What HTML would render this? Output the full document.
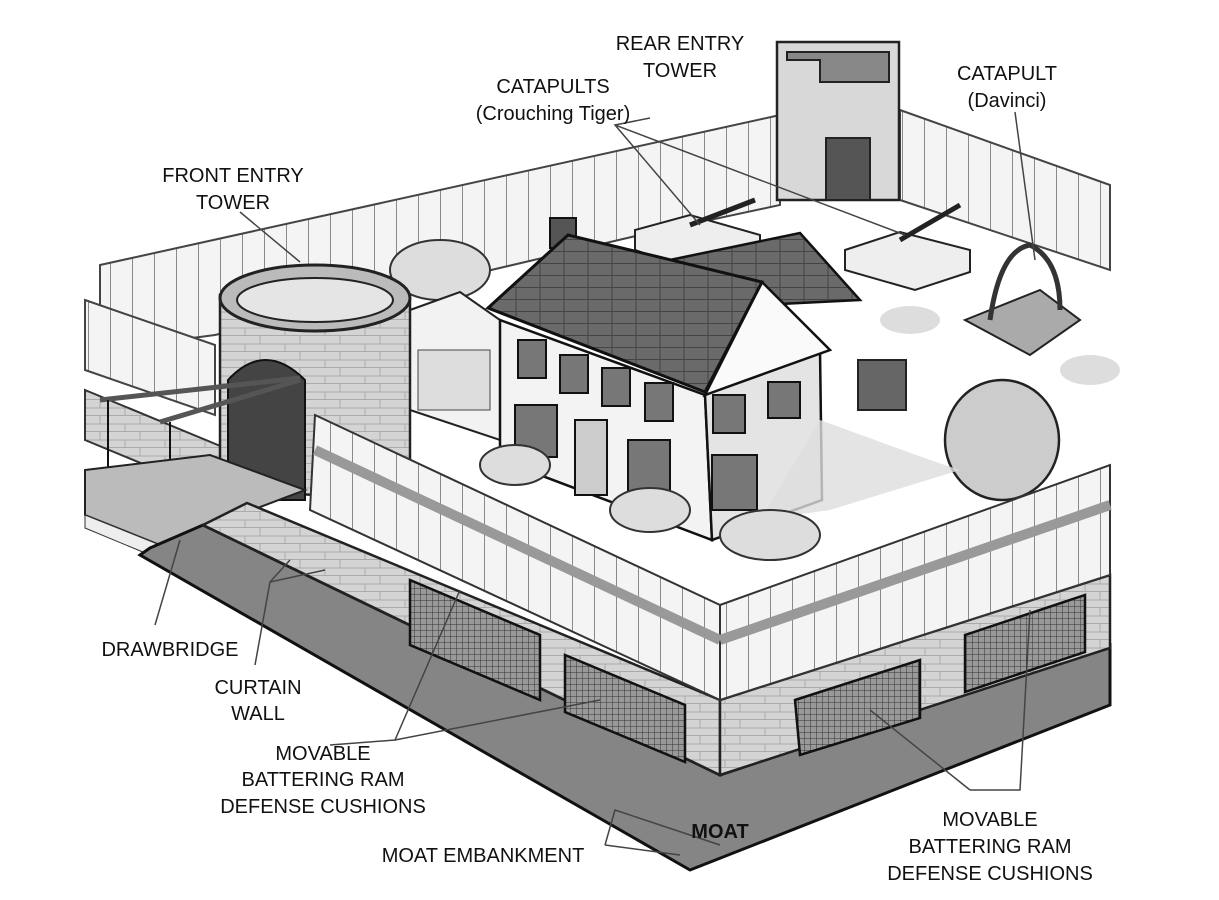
<!DOCTYPE html>
<html><head><meta charset="utf-8"><style>
html,body{margin:0;padding:0;background:#fff}
svg{display:block}
text{font-family:"Liberation Sans",sans-serif;font-size:20px;fill:#111;text-anchor:middle}
</style></head><body>
<svg width="1219" height="900" viewBox="0 0 1219 900" xmlns="http://www.w3.org/2000/svg">
<defs>
<pattern id="pk" width="22" height="40" patternUnits="userSpaceOnUse"><rect width="22" height="40" fill="#f4f4f4"/><line x1="0" y1="0" x2="0" y2="40" stroke="#666" stroke-width="1.5"/></pattern>
<pattern id="br" width="40" height="16" patternUnits="userSpaceOnUse"><rect width="40" height="16" fill="#d4d4d4"/><path d="M0 15.5H40M20 0V8M0 8H40M5 8V16" stroke="#aaa" stroke-width="1" fill="none"/></pattern>
<pattern id="mesh" width="6" height="6" patternUnits="userSpaceOnUse"><rect width="6" height="6" fill="#999"/><path d="M0 0V6M0 0H6" stroke="#333" stroke-width="1"/></pattern>
<pattern id="sh" width="24" height="12" patternUnits="userSpaceOnUse"><rect width="24" height="12" fill="#6a6a6a"/><path d="M0 11.5H24M12 0V12" stroke="#444" stroke-width="1"/></pattern>
</defs>
<!-- back fence -->
<polygon points="100,265 780,115 780,205 640,235 215,335 100,350" fill="url(#pk)" stroke="#444" stroke-width="2"/>
<polygon points="900,110 1110,185 1110,270 900,200" fill="url(#pk)" stroke="#444" stroke-width="2"/>
<!-- rear tower -->
<rect x="777" y="42" width="122" height="158" fill="#d8d8d8" stroke="#222" stroke-width="2.5"/>
<path d="M787 52 H889 V82 H820 V60 H787 Z" fill="#888" stroke="#222" stroke-width="2"/>
<rect x="826" y="138" width="44" height="62" fill="#555" stroke="#222" stroke-width="2"/>
<!-- catapults -->
<polygon points="635,230 690,215 760,235 760,255 705,275 635,250" fill="#eee" stroke="#222" stroke-width="2"/>
<line x1="690" y1="225" x2="755" y2="200" stroke="#222" stroke-width="5"/>
<polygon points="845,250 900,232 970,250 970,272 915,290 845,270" fill="#eee" stroke="#222" stroke-width="2"/>
<line x1="900" y1="240" x2="960" y2="205" stroke="#222" stroke-width="5"/>
<!-- davinci -->
<polygon points="965,320 1040,290 1080,320 1030,355" fill="#aaa" stroke="#222" stroke-width="2"/>
<path d="M990 320 Q1000 250 1030 245 Q1060 260 1060 310" fill="none" stroke="#333" stroke-width="5"/>
<!-- shrubs / tree -->
<ellipse cx="440" cy="270" rx="50" ry="30" fill="#ddd" stroke="#333" stroke-width="2"/>
<ellipse cx="1002" cy="440" rx="57" ry="60" fill="#ccc" stroke="#222" stroke-width="2.5"/>
<ellipse cx="1090" cy="370" rx="30" ry="15" fill="#ddd"/>
<ellipse cx="910" cy="320" rx="30" ry="14" fill="#ddd"/>
<!-- grill -->
<rect x="858" y="360" width="48" height="50" fill="#666" stroke="#222" stroke-width="2"/>
<!-- garage -->
<polygon points="410,310 460,292 500,320 500,440 410,410" fill="#f2f2f2" stroke="#222" stroke-width="2"/>
<rect x="418" y="350" width="72" height="60" fill="#ddd" stroke="#444"/>
<!-- rear roof -->
<polygon points="660,262 800,233 860,300 760,305" fill="url(#sh)" stroke="#111" stroke-width="2.5"/>
<rect x="550" y="218" width="26" height="30" fill="#555" stroke="#111" stroke-width="2"/>
<!-- house walls -->
<polygon points="500,320 705,395 712,540 500,460" fill="#f3f3f3" stroke="#111" stroke-width="2.5"/>
<polygon points="705,395 820,350 822,500 712,540" fill="#e4e4e4" stroke="#111" stroke-width="2.5"/>
<polygon points="705,395 762,282 830,350" fill="#fafafa" stroke="#111" stroke-width="2.5"/>
<polygon points="488,308 568,235 762,282 705,392" fill="url(#sh)" stroke="#111" stroke-width="3"/>
<g fill="#777" stroke="#111" stroke-width="2">
<rect x="518" y="340" width="28" height="38"/><rect x="560" y="355" width="28" height="38"/><rect x="602" y="368" width="28" height="38"/><rect x="645" y="383" width="28" height="38"/>
<rect x="515" y="405" width="42" height="52"/><rect x="628" y="440" width="42" height="55"/>
<rect x="713" y="395" width="32" height="38"/><rect x="768" y="382" width="32" height="36"/><rect x="712" y="455" width="45" height="55"/>
</g>
<rect x="575" y="420" width="32" height="75" fill="#ccc" stroke="#111" stroke-width="2"/>
<polygon points="820,420 930,460 960,470 830,510 760,520" fill="#ddd" opacity=".8"/>
<ellipse cx="515" cy="465" rx="35" ry="20" fill="#ddd" stroke="#333" stroke-width="2"/>
<ellipse cx="650" cy="510" rx="40" ry="22" fill="#ddd" stroke="#333" stroke-width="2"/>
<ellipse cx="770" cy="535" rx="50" ry="25" fill="#ddd" stroke="#333" stroke-width="2"/>
<!-- left far fence & wall -->
<polygon points="85,300 215,345 215,415 85,370" fill="url(#pk)" stroke="#444" stroke-width="2"/>
<polygon points="85,390 230,450 230,500 85,440" fill="url(#br)" stroke="#333" stroke-width="2"/>
<!-- front tower -->
<path d="M220 295 L220 490 L410 500 L410 300 Z" fill="url(#br)" stroke="#222" stroke-width="2.5"/>
<ellipse cx="315" cy="298" rx="95" ry="33" fill="#bbb" stroke="#222" stroke-width="3"/>
<ellipse cx="315" cy="300" rx="78" ry="22" fill="#e5e5e5" stroke="#222" stroke-width="2"/>
<path d="M228 500 L228 380 Q265 340 305 380 L305 500 Z" fill="#444" stroke="#111" stroke-width="2"/>
<line x1="100" y1="400" x2="300" y2="378" stroke="#555" stroke-width="5"/>
<line x1="160" y1="422" x2="300" y2="380" stroke="#555" stroke-width="5"/>
<line x1="108" y1="400" x2="108" y2="495" stroke="#111" stroke-width="2"/>
<line x1="170" y1="422" x2="170" y2="525" stroke="#111" stroke-width="2"/>
<!-- drawbridge -->
<polygon points="85,470 210,455 305,490 160,545 85,515" fill="#bbb" stroke="#222" stroke-width="2"/>
<polygon points="85,515 160,545 150,555 85,528" fill="#eee" stroke="#333"/>
<!-- moat -->
<polygon points="150,548 203,525 720,775 1110,645 1110,705 690,870 140,555" fill="#858585" stroke="#111" stroke-width="3"/>
<!-- walls -->
<polygon points="247,503 720,700 720,775 203,525" fill="url(#br)" stroke="#222" stroke-width="2.5"/>
<polygon points="720,700 1110,575 1110,648 720,775" fill="url(#br)" stroke="#222" stroke-width="2.5"/>
<!-- fences -->
<polygon points="315,415 720,605 720,700 310,510" fill="url(#pk)" stroke="#333" stroke-width="2"/>
<polygon points="720,605 1110,465 1110,575 720,700" fill="url(#pk)" stroke="#333" stroke-width="2"/>
<polyline points="315,450 720,640" stroke="#999" stroke-width="10" fill="none"/>
<polyline points="720,640 1110,505" stroke="#999" stroke-width="10" fill="none"/>
<!-- cushions -->
<polygon points="410,580 540,635 540,700 410,645" fill="url(#mesh)" stroke="#111" stroke-width="2.5"/>
<polygon points="565,655 685,705 685,762 565,712" fill="url(#mesh)" stroke="#111" stroke-width="2.5"/>
<polygon points="795,700 920,660 920,718 800,755" fill="url(#mesh)" stroke="#111" stroke-width="2.5"/>
<polygon points="965,635 1085,595 1085,652 965,692" fill="url(#mesh)" stroke="#111" stroke-width="2.5"/>
<!-- leader lines -->
<g stroke="#444" stroke-width="1.5" fill="none">
<polyline points="650,118 615,125 700,225"/><polyline points="615,125 905,235"/>
<polyline points="1015,112 1035,260"/>
<polyline points="240,212 300,262"/>
<polyline points="155,625 180,540"/>
<polyline points="255,665 270,582 325,570"/><polyline points="270,582 290,560"/>
<polyline points="330,745 395,740 460,590"/><polyline points="395,740 600,700"/>
<polyline points="605,845 615,810 720,845"/><polyline points="605,845 680,855"/>
<polyline points="970,790 1020,790 1030,610"/><polyline points="970,790 870,710"/>
</g>
<!-- labels -->
<text x="680" y="50">REAR ENTRY</text><text x="680" y="77">TOWER</text>
<text x="553" y="93">CATAPULTS</text><text x="553" y="120">(Crouching Tiger)</text>
<text x="1007" y="80">CATAPULT</text><text x="1007" y="107">(Davinci)</text>
<text x="233" y="182">FRONT ENTRY</text><text x="233" y="209">TOWER</text>
<text x="170" y="656">DRAWBRIDGE</text>
<text x="258" y="694">CURTAIN</text><text x="258" y="720">WALL</text>
<text x="323" y="760">MOVABLE</text><text x="323" y="786">BATTERING RAM</text><text x="323" y="813">DEFENSE CUSHIONS</text>
<text x="483" y="862">MOAT EMBANKMENT</text>
<text x="720" y="838" style="font-weight:bold">MOAT</text>
<text x="990" y="826">MOVABLE</text><text x="990" y="853">BATTERING RAM</text><text x="990" y="880">DEFENSE CUSHIONS</text>
</svg>
</body></html>
